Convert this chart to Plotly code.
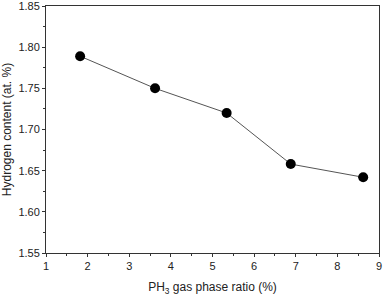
import plotly.graph_objects as go

ph3_ratio = [1.82, 3.62, 5.34, 6.88, 8.62]
hydrogen = [1.789, 1.750, 1.720, 1.658, 1.642]

fig = go.Figure()
fig.add_trace(go.Scatter(
    x=ph3_ratio, y=hydrogen, mode="lines+markers",
    line=dict(color="#555555", width=1),
    marker=dict(color="black", size=10),
    showlegend=False,
))

axis_common = dict(
    showline=True, linecolor="#333333", linewidth=1, mirror=True,
    ticks="outside", ticklen=3, tickcolor="#333333", tickwidth=1,
    showgrid=False, zeroline=False, automargin=False,
    ticklabeloverflow="allow",
    tickfont=dict(family="Liberation Sans, Arial", size=11, color="#222222"),
    title_font=dict(family="Liberation Sans, Arial", size=12, color="#222222"),
)
fig.update_xaxes(
    range=[1, 9], dtick=1, tick0=1,
    minor=dict(dtick=0.5, ticks="outside", ticklen=2, tickcolor="#333333"),
    title_text="PH<sub>3</sub> gas phase ratio (%)", title_standoff=11,
    **axis_common,
)
fig.update_yaxes(
    range=[1.55, 1.85], dtick=0.05, tick0=1.55, tickformat=".2f",
    minor=dict(dtick=0.025, ticks="outside", ticklen=2, tickcolor="#333333"),
    title_text="Hydrogen content (at. %)", title_standoff=5,
    **axis_common,
)
fig.update_layout(
    width=387, height=297,
    margin=dict(l=46, r=8, t=6, b=44),
    plot_bgcolor="white", paper_bgcolor="white",
)
fig.write_html("out.html", config={"displayModeBar": False},
               post_script="document.body.style.margin='0';")
